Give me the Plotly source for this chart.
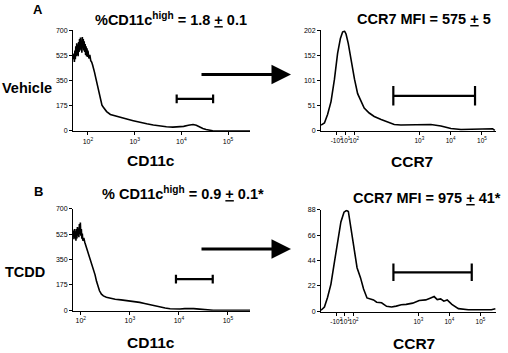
import plotly.graph_objects as go

# ---------------- data ----------------
# CD11c histograms (x as log10 intensity, y as counts)
cd11c_vehicle_log = [1.69, 1.70, 1.71, 1.72, 1.73, 1.74, 1.75, 1.76, 1.77, 1.78, 1.79, 1.80, 1.81, 1.82, 1.83,
                     1.84, 1.85, 1.86, 1.87, 1.88, 1.89, 1.90, 1.91, 1.92, 1.93, 1.94, 1.95, 1.96, 1.97, 1.98,
                     1.99, 2.00, 2.02, 2.04, 2.06, 2.08, 2.10, 2.12, 2.14, 2.16, 2.18, 2.20, 2.22, 2.24, 2.26,
                     2.28, 2.30, 2.33, 2.36, 2.40, 2.48, 2.55, 2.65, 2.76, 2.85, 2.97, 3.10, 3.26, 3.40, 3.54,
                     3.68, 3.82, 3.95, 4.05, 4.15, 4.25, 4.32, 4.39, 4.46, 4.53, 4.60, 4.67, 4.82, 5.47]
cd11c_vehicle_cnt = [500, 540, 480, 560, 500, 590, 520, 610, 530, 600, 520, 620, 550, 640, 560,
                     650, 570, 630, 545, 655, 580, 640, 560, 625, 550, 605, 530, 590, 520, 575,
                     515, 560, 505, 530, 490, 480, 460, 440, 410, 380, 350, 320, 280, 250, 225,
                     200, 180, 165, 150, 135, 115, 108, 98, 90, 82, 72, 60, 50, 42, 34,
                     30, 27, 27, 32, 40, 45, 40, 28, 18, 11, 6, 2, 0, 0]

cd11c_tcdd_log = [1.84, 1.85, 1.86, 1.87, 1.88, 1.89, 1.90, 1.91, 1.92, 1.93, 1.94, 1.95, 1.96, 1.97, 1.98,
                  1.99, 2.00, 2.01, 2.02, 2.03, 2.04, 2.06, 2.08, 2.10, 2.12, 2.15, 2.18, 2.22, 2.25, 2.29,
                  2.32, 2.35, 2.38, 2.42, 2.46, 2.52, 2.60, 2.70, 2.82, 2.93, 3.05, 3.20, 3.30, 3.41, 3.51,
                  3.61, 3.72, 3.82, 3.92, 4.02, 4.12, 4.22, 4.30, 4.36, 4.46, 4.56, 4.63, 4.70, 5.45]
cd11c_tcdd_cnt = [520, 550, 490, 560, 500, 545, 480, 560, 495, 575, 515, 565, 505, 595, 525,
                  605, 515, 560, 495, 530, 480, 500, 470, 450, 430, 400, 370, 330, 290, 245,
                  200, 165, 135, 112, 100, 90, 82, 77, 72, 68, 62, 55, 47, 38, 30,
                  23, 16, 11, 9, 9, 12, 14, 12, 10, 7, 5, 2, 0, 0]

# CCR7 histograms (x in biexponential display units: 3 = 10^3, 4 = 10^4, 5 = 10^5)
ccr7_vehicle_u = [-0.14, -0.03, 0.07, 0.18, 0.29, 0.39, 0.48, 0.55, 0.61, 0.66, 0.73, 0.82, 0.93, 1.03, 1.14,
                  1.24, 1.40, 1.56, 1.78, 1.99, 2.20, 2.41, 2.73, 3.05, 3.37, 3.69, 4.01, 4.33, 4.76, 5.18,
                  5.34, 5.41]
ccr7_vehicle_cnt = [11.7, 16, 33, 59, 104, 156, 186, 199, 201, 195, 176, 143, 104, 75, 59,
                    46, 36, 29, 23, 18, 13, 12, 12, 13, 13, 10, 5, 3, 3, 3,
                    4.5, 1]

ccr7_tcdd_u = [-0.13, -0.02, 0.08, 0.19, 0.29, 0.40, 0.51, 0.61, 0.69, 0.75, 0.82, 0.93, 1.03, 1.14, 1.24,
               1.35, 1.45, 1.56, 1.66, 1.82, 1.98, 2.14, 2.29, 2.45, 2.61, 2.82, 3.03, 3.24, 3.40, 3.51,
               3.61, 3.72, 3.82, 3.93, 4.08, 4.29, 4.61, 4.93, 5.14, 5.35, 5.48]
ccr7_tcdd_cnt = [0.9, 3.7, 12, 23.6, 40.6, 60.5, 77.5, 86, 87.4, 86.6, 74.7, 54.8, 37.8, 29.2, 19.3,
                 11.6, 10.8, 9.9, 7.9, 7.4, 4.3, 3.7, 4.5, 5.7, 6.0, 7.1, 9.4, 9.9, 11.6, 12.8,
                 10.2, 10.8, 8.8, 9.9, 6.0, 2.3, 1.4, 1.4, 0.9, 1.4, 2.3]

# gates: [start, end, level, cap half-height]
gate_cd11c_vehicle = [3.90, 4.68, 224, 30]
gate_cd11c_tcdd = [3.94, 4.69, 215, 30]
gate_ccr7_vehicle = [2.17, 4.78, 70.6, 19.6]
gate_ccr7_tcdd = [2.20, 4.72, 33.8, 7.6]

# axis ticks
cd11c_y_ticks = [0, 175, 350, 525, 700]
ccr7_vehicle_y_ticks = [0, 51, 101, 152, 202]
ccr7_tcdd_y_ticks = [0, 22, 44, 66, 88]
cd11c_x_tickvals = [100, 1000, 10000, 100000]
cd11c_x_ticktext = ["10<sup>2</sup>", "10<sup>3</sup>", "10<sup>4</sup>", "10<sup>5</sup>"]
ccr7_x_tickvals = [0.36, 0.64, 0.92, 3.0, 4.0, 5.0]
ccr7_x_ticktext = ["-10<sup>2</sup>", "10<sup>1</sup>", "10<sup>2</sup>", "10<sup>3</sup>",
                   "10<sup>4</sup>", "10<sup>5</sup>"]

W, H = 508, 353
FONT = "Liberation Sans, Arial, sans-serif"


def px(x):
    return x / W


def py(y):
    return 1 - y / H


fig = go.Figure()

LINE = dict(color="black", width=1.6)
GATE = dict(color="black", width=2.2)


def gate_xy(g, logscale):
    s, e, lvl, cap = g
    if logscale:
        s, e = 10 ** s, 10 ** e
    xs = [s, s, None, s, e, None, e, e]
    ys = [lvl - cap, lvl + cap, None, lvl, lvl, None, lvl - cap, lvl + cap]
    return xs, ys


# Panel A left
fig.add_trace(go.Scatter(x=[10 ** v for v in cd11c_vehicle_log], y=cd11c_vehicle_cnt, mode="lines",
                         line=LINE, xaxis="x", yaxis="y", hoverinfo="skip"))
gx, gy = gate_xy(gate_cd11c_vehicle, True)
fig.add_trace(go.Scatter(x=gx, y=gy, mode="lines", line=GATE, xaxis="x", yaxis="y", hoverinfo="skip"))
# Panel A right
fig.add_trace(go.Scatter(x=ccr7_vehicle_u, y=ccr7_vehicle_cnt, mode="lines", line=LINE,
                         xaxis="x2", yaxis="y2", hoverinfo="skip"))
gx, gy = gate_xy(gate_ccr7_vehicle, False)
fig.add_trace(go.Scatter(x=gx, y=gy, mode="lines", line=GATE, xaxis="x2", yaxis="y2", hoverinfo="skip"))
# Panel B left
fig.add_trace(go.Scatter(x=[10 ** v for v in cd11c_tcdd_log], y=cd11c_tcdd_cnt, mode="lines",
                         line=LINE, xaxis="x3", yaxis="y3", hoverinfo="skip"))
gx, gy = gate_xy(gate_cd11c_tcdd, True)
fig.add_trace(go.Scatter(x=gx, y=gy, mode="lines", line=GATE, xaxis="x3", yaxis="y3", hoverinfo="skip"))
# Panel B right
fig.add_trace(go.Scatter(x=ccr7_tcdd_u, y=ccr7_tcdd_cnt, mode="lines", line=LINE,
                         xaxis="x4", yaxis="y4", hoverinfo="skip"))
gx, gy = gate_xy(gate_ccr7_tcdd, False)
fig.add_trace(go.Scatter(x=gx, y=gy, mode="lines", line=GATE, xaxis="x4", yaxis="y4", hoverinfo="skip"))

tickfont = dict(family=FONT, size=7, color="black")
small_tickfont = dict(family=FONT, size=6.5, color="black")
common = dict(showline=True, linecolor="black", linewidth=1, ticks="outside", ticklen=3,
              tickcolor="black", tickwidth=1, showgrid=False, zeroline=False,
              fixedrange=True, tickangle=0)

left_xdom = [px(73), px(250)]
right_xdom = [px(321), px(496)]

fig.update_layout(
    width=W, height=H, margin=dict(l=0, r=0, t=0, b=0),
    paper_bgcolor="white", plot_bgcolor="white", showlegend=False,
    xaxis=dict(domain=left_xdom, type="log", range=[1.68, 5.47], tickvals=cd11c_x_tickvals,
               ticktext=cd11c_x_ticktext, anchor="y", tickfont=tickfont, **common),
    yaxis=dict(domain=[py(130), py(27)], range=[-3, 700], tickvals=cd11c_y_ticks, anchor="x",
               tickfont=tickfont, **common),
    xaxis2=dict(domain=right_xdom, range=[-0.14, 5.45], tickvals=ccr7_x_tickvals,
                ticktext=ccr7_x_ticktext, anchor="y2", tickfont=small_tickfont, **common),
    yaxis2=dict(domain=[py(130), py(27)], range=[-1, 202], tickvals=ccr7_vehicle_y_ticks, anchor="x2",
                tickfont=tickfont, **common),
    xaxis3=dict(domain=left_xdom, type="log", range=[1.84, 5.45], tickvals=cd11c_x_tickvals,
                ticktext=cd11c_x_ticktext, anchor="y3", tickfont=tickfont, **common),
    yaxis3=dict(domain=[py(313), py(209)], range=[-3, 700], tickvals=cd11c_y_ticks, anchor="x3",
                tickfont=tickfont, **common),
    xaxis4=dict(domain=right_xdom, range=[-0.13, 5.5], tickvals=ccr7_x_tickvals,
                ticktext=ccr7_x_ticktext, anchor="y4", tickfont=small_tickfont, **common),
    yaxis4=dict(domain=[py(314), py(210)], range=[-0.4, 88], tickvals=ccr7_tcdd_y_ticks, anchor="x4",
                tickfont=tickfont, **common),
)


def label(text, x, y, size=13, xanchor="center"):
    fig.add_annotation(text=text, x=px(x), y=py(y), xref="paper", yref="paper", showarrow=False,
                       xanchor=xanchor, yanchor="middle",
                       font=dict(family=FONT, size=size, color="black", weight="bold"))


label("A", 38, 6, 13)
label("B", 38, 191, 13)
label("Vehicle", 27, 86, 14.5)
label("TCDD", 25, 273, 14.5)
label("%CD11c<sup>high</sup> = 1.8 <u>+</u> 0.1", 171, 15, 14.5)
label("CCR7 MFI = 575 <u>+</u> 5", 424, 15, 14.5)
label("% CD11c<sup>high</sup> = 0.9 <u>+</u> 0.1*", 183, 193, 14.5)
label("CCR7 MFI = 975 <u>+</u> 41*", 427, 198, 14.5)
label("CD11c", 151, 160, 15.5)
label("CCR7", 412, 161, 15.5)
label("CD11c", 151, 345, 15.5)
label("CCR7", 414, 346, 15.5)

for yy in (72, 250):
    fig.add_annotation(x=px(291), y=py(yy), xref="paper", yref="paper", ax=-91, ay=0,
                       axref="pixel", ayref="pixel", showarrow=True, arrowhead=2, arrowsize=1.3,
                       arrowwidth=3, arrowcolor="black", text="")

fig.write_html("out.html", config={"displayModeBar": False, "staticPlot": True},
               post_script="document.body.style.margin='0';document.body.style.overflow='hidden';")
